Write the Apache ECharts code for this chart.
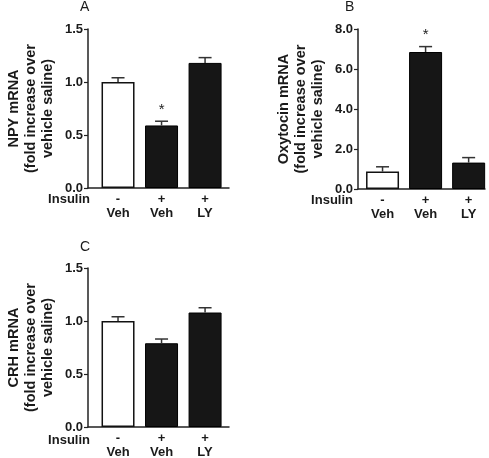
<!DOCTYPE html>
<html>
<head>
<meta charset="utf-8">
<script src="https://cdn.jsdelivr.net/npm/echarts@6/dist/echarts.min.js"></script>
<style>html,body{margin:0;padding:0;background:#fff}#c{width:489px;height:458px}</style>
</head>
<body>
<div id="c"></div>
<script>
// ---- data ----
var insulinLabels = ['-', '+', '+'];
var treatmentLabels = ['Veh', 'Veh', 'LY'];
var npyValues = [1.0, 0.59, 1.18];
var npyErrors = [0.04, 0.04, 0.05];
var npyMarks = ['', '*', ''];
var oxyValues = [0.87, 6.85, 1.32];
var oxyErrors = [0.24, 0.27, 0.25];
var oxyMarks = ['', '*', ''];
var crhValues = [1.0, 0.79, 1.08];
var crhErrors = [0.04, 0.04, 0.045];
var crhMarks = ['', '', ''];
var panelLetters = ['A', 'B', 'C'];
var yNames = ['NPY mRNA\n(fold increase over\nvehicle saline)',
              'Oxytocin mRNA\n(fold increase over\nvehicle saline)',
              'CRH mRNA\n(fold increase over\nvehicle saline)'];
var yMax = [1.5, 8.0, 1.5];
var yInterval = [0.5, 2.0, 0.5];

// ---- chart ----
var FONT = 'Liberation Sans, Arial, sans-serif';
var TXT = '#1a1a1a';
var chart = echarts.init(document.getElementById('c'), null, {renderer: 'canvas'});

var grids = [
  {left: 88, top: 29, width: 141, height: 159, outerBoundsMode: 'none'},
  {left: 358, top: 29, width: 127, height: 160, outerBoundsMode: 'none'},
  {left: 88, top: 268, width: 141, height: 159, outerBoundsMode: 'none'}
];
var xRanges = [[-0.69, 2.55], [-0.57, 2.38], [-0.69, 2.55]];
var valuesList = [npyValues, oxyValues, crhValues];
var errorsList = [npyErrors, oxyErrors, crhErrors];
var marksList = [npyMarks, oxyMarks, crhMarks];

var xAxes = [], yAxes = [], series = [];
for (var p = 0; p < 3; p++) {
  xAxes.push({
    type: 'value', gridIndex: p, min: xRanges[p][0], max: xRanges[p][1],
    axisLine: {show: true, onZero: false, lineStyle: {color: '#222', width: 1.5}},
    axisTick: {show: false},
    splitLine: {show: false},
    axisLabel: {
      customValues: [0, 1, 2],
      margin: 4,
      color: TXT, fontFamily: FONT, fontSize: 13, fontWeight: 'bold', lineHeight: 14,
      formatter: function (v) {
        var i = Math.round(v);
        return insulinLabels[i] + '\n' + treatmentLabels[i];
      }
    }
  });
  yAxes.push({
    type: 'value', gridIndex: p, min: 0, max: yMax[p], interval: yInterval[p],
    name: yNames[p], nameLocation: 'middle', nameGap: 32, nameRotate: 90,
    nameTextStyle: {color: TXT, fontFamily: FONT, fontSize: 14.5, fontWeight: 'bold', lineHeight: 17},
    axisLine: {show: true, onZero: false, lineStyle: {color: '#222', width: 1.5}},
    axisTick: {show: true, length: 4, lineStyle: {color: '#222', width: 1.2}},
    splitLine: {show: false},
    axisLabel: {margin: 5, color: TXT, fontFamily: FONT, fontSize: 13, fontWeight: 'bold',
      formatter: function (v) { return v.toFixed(1); }}
  });
  var vals = valuesList[p];
  var barData = vals.map(function (v, i) {
    return {
      value: [i, v],
      itemStyle: i === 0
        ? {color: '#fff', borderColor: '#111', borderWidth: 1.5}
        : {color: '#161616', borderColor: '#000', borderWidth: 1}
    };
  });
  series.push({
    type: 'bar', xAxisIndex: p, yAxisIndex: p, barWidth: 33,
    data: barData, z: 2, silent: true
  });
  var errs = errorsList[p], marks = marksList[p];
  series.push({
    type: 'custom', xAxisIndex: p, yAxisIndex: p, z: 3, silent: true,
    data: vals.map(function (v, i) { return [i, v, errs[i], i]; }),
    renderItem: (function (marks) {
      return function (params, api) {
        var x = api.value(0), v = api.value(1), e = api.value(2), idx = api.value(3);
        var base = api.coord([x, v]);
        var top = api.coord([x, v + e]);
        var children = [
          {type: 'line', shape: {x1: top[0], y1: base[1], x2: top[0], y2: top[1]},
           style: {stroke: '#333', lineWidth: 1.5}},
          {type: 'line', shape: {x1: top[0] - 6.5, y1: top[1], x2: top[0] + 6.5, y2: top[1]},
           style: {stroke: '#333', lineWidth: 1.5}}
        ];
        if (marks[idx]) {
          children.push({type: 'text', style: {
            text: marks[idx], x: top[0], y: top[1] - 4,
            align: 'center', verticalAlign: 'bottom',
            font: '15px ' + FONT, fill: '#222'}});
        }
        return {type: 'group', children: children};
      };
    })(marks)
  });
}

var titles = [
  {text: 'A', left: 80, top: 0},
  {text: 'B', left: 345, top: 0},
  {text: 'C', left: 80, top: 240}
].map(function (t) {
  t.padding = 0;
  t.textStyle = {color: TXT, fontFamily: FONT, fontSize: 14, fontWeight: 'normal'};
  return t;
});

var insulinPos = [[90, 199], [353, 200], [90, 440]];
var graphics = insulinPos.map(function (pt) {
  return {type: 'text', x: pt[0], y: pt[1], style: {
    text: 'Insulin', align: 'right', verticalAlign: 'middle',
    font: 'bold 13px ' + FONT, fill: TXT}};
});

chart.setOption({
  animation: false,
  backgroundColor: '#fff',
  title: titles,
  grid: grids,
  xAxis: xAxes,
  yAxis: yAxes,
  series: series,
  graphic: graphics
});
</script>
</body>
</html>
